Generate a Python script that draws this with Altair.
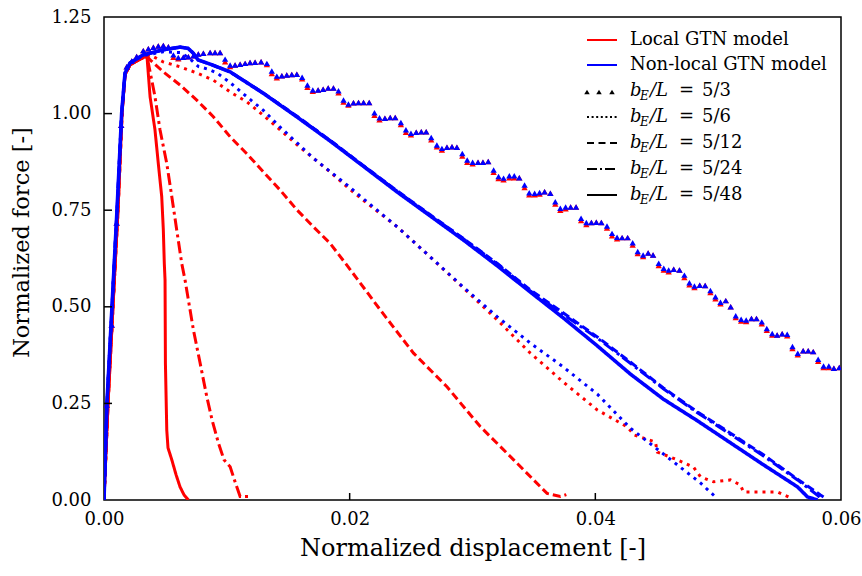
import altair as alt
import pandas as pd

# ---------------- data (normalized displacement, normalized force) ----------------
# Local GTN model
loc_56_x = [0, 0.00033, 0.00073, 0.00114, 0.00147, 0.00171, 0.00212, 0.00293, 0.0035, 0.00375,
            0.00481, 0.00619, 0.00758, 0.00888, 0.01027, 0.01165, 0.01295, 0.01434, 0.01572, 0.01703,
            0.01841, 0.0198, 0.0211, 0.02387, 0.02656, 0.02925, 0.03202, 0.03471, 0.0374, 0.04016,
            0.04261, 0.04318, 0.04489, 0.04505, 0.04668, 0.04799, 0.04856, 0.04962, 0.051, 0.05181,
            0.05206, 0.0532, 0.05483, 0.05573]
loc_56_f = [0, 0.251, 0.500, 0.751, 1.002, 1.100, 1.126, 1.141, 1.149, 1.152,
            1.134, 1.121, 1.105, 1.087, 1.056, 1.030, 0.996, 0.958, 0.919, 0.885,
            0.849, 0.810, 0.776, 0.707, 0.629, 0.549, 0.466, 0.380, 0.305, 0.233,
            0.189, 0.168, 0.150, 0.124, 0.104, 0.085, 0.060, 0.047, 0.052, 0.039,
            0.021, 0.021, 0.021, 0.008]

loc_512_x = [0, 0.00033, 0.00073, 0.00114, 0.00147, 0.00171, 0.00212, 0.00293, 0.0035,
             0.00375, 0.00483, 0.00619, 0.00755, 0.0089, 0.01027, 0.01163, 0.01298, 0.01434, 0.0157,
             0.01705, 0.01841, 0.01977, 0.02249, 0.0252, 0.02792, 0.03063, 0.03335, 0.03607, 0.03715,
             0.03764]
loc_512_f = [0, 0.251, 0.500, 0.751, 1.002, 1.100, 1.126, 1.141, 1.149,
             1.139, 1.108, 1.074, 1.035, 0.992, 0.940, 0.896, 0.849, 0.802, 0.751,
             0.707, 0.664, 0.608, 0.492, 0.380, 0.293, 0.190, 0.104, 0.017, 0.009,
             0.014]

loc_524_x = [0, 0.00033, 0.00073, 0.00114, 0.00147, 0.00171, 0.00212, 0.00293, 0.0035,
             0.00361, 0.00415, 0.00456, 0.00511, 0.00552, 0.00592, 0.00633, 0.0066, 0.00728, 0.00782,
             0.00837, 0.0088, 0.00931, 0.00977, 0.01027, 0.01067, 0.01108, 0.01176]
loc_524_f = [0, 0.251, 0.500, 0.751, 1.002, 1.100, 1.126, 1.141, 1.149,
             1.131, 1.044, 0.958, 0.871, 0.785, 0.699, 0.612, 0.569, 0.440, 0.355,
             0.267, 0.207, 0.148, 0.104, 0.086, 0.047, 0.009, 0.009]

loc_548_x = [0, 0.00033, 0.00073, 0.00114, 0.00147, 0.00171, 0.00212, 0.00293, 0.0035,
             0.00354, 0.00375, 0.00415, 0.00442, 0.0047, 0.00483, 0.00491, 0.00497, 0.005, 0.00511,
             0.00521, 0.00552, 0.00587, 0.00619, 0.00652, 0.00687]
loc_548_f = [0, 0.251, 0.500, 0.751, 1.002, 1.100, 1.126, 1.141, 1.149,
             1.131, 1.044, 0.958, 0.871, 0.785, 0.699, 0.612, 0.569, 0.354, 0.181,
             0.135, 0.104, 0.065, 0.034, 0.013, 0.0]

# Non-local GTN model
nl_56_x = [0, 0.00024, 0.00065, 0.00106, 0.00144, 0.00171, 0.00212, 0.00318, 0.00481, 0.00619,
           0.00687, 0.00768, 0.00847, 0.00921, 0.01027, 0.01165, 0.01295, 0.01434, 0.01572, 0.01703,
           0.01841, 0.0198, 0.0211, 0.02387, 0.02656, 0.02925, 0.03202, 0.03471, 0.0374, 0.04016,
           0.04285, 0.04587, 0.04856, 0.04978]
nl_56_f = [0, 0.251, 0.500, 0.751, 1.002, 1.105, 1.131, 1.150, 1.160, 1.158,
           1.145, 1.122, 1.115, 1.105, 1.080, 1.043, 1.009, 0.965, 0.924, 0.885,
           0.850, 0.815, 0.780, 0.707, 0.629, 0.551, 0.474, 0.406, 0.344, 0.274,
           0.186, 0.111, 0.044, 0.008]

nl_512_x = [0, 0.00024, 0.00065, 0.00106, 0.00144, 0.00171, 0.00212, 0.00318, 0.00481, 0.00619,
            0.00684, 0.00725, 0.00766, 0.00864, 0.01027, 0.01295, 0.01572, 0.01841, 0.0211, 0.02387,
            0.02656, 0.02925, 0.03202, 0.03471, 0.0374, 0.04016, 0.04285, 0.04554, 0.04831, 0.051,
            0.05369, 0.05646, 0.05833, 0.05858]
nl_512_f = [0, 0.251, 0.500, 0.751, 1.002, 1.105, 1.131, 1.152, 1.165, 1.172,
            1.169, 1.157, 1.139, 1.128, 1.108, 1.054, 0.993, 0.931, 0.866, 0.800,
            0.738, 0.677, 0.612, 0.5435, 0.484, 0.422, 0.357, 0.290, 0.228, 0.173,
            0.117, 0.054, 0.013, 0.008]

nl_524_x = [0, 0.00024, 0.00065, 0.00106, 0.00144, 0.00171, 0.00212, 0.00318, 0.00481, 0.00619,
            0.00684, 0.00725, 0.00766, 0.00864, 0.01027, 0.01295, 0.01572, 0.01841, 0.0211, 0.02387,
            0.02656, 0.02925, 0.03202, 0.03471, 0.0374, 0.04016, 0.04285, 0.04554, 0.04831, 0.051,
            0.05369, 0.05646, 0.05806, 0.05825]
nl_524_f = [0, 0.251, 0.500, 0.751, 1.002, 1.105, 1.131, 1.152, 1.165, 1.172,
            1.169, 1.157, 1.139, 1.128, 1.108, 1.053, 0.992, 0.930, 0.865, 0.799,
            0.737, 0.676, 0.611, 0.541, 0.480, 0.419, 0.354, 0.288, 0.226, 0.170,
            0.114, 0.052, 0.013, 0.007]

nl_548_x = [0, 0.00024, 0.00065, 0.00106, 0.00144, 0.00171, 0.00212, 0.00318, 0.00481, 0.00619,
            0.00684, 0.00725, 0.00766, 0.00864, 0.01027, 0.01295, 0.01572, 0.01841, 0.0211, 0.02387,
            0.02656, 0.02925, 0.03202, 0.03471, 0.0374, 0.04016, 0.04285, 0.04554, 0.04831, 0.051,
            0.05369, 0.05646, 0.05727, 0.05809]
nl_548_f = [0, 0.251, 0.500, 0.751, 1.002, 1.105, 1.131, 1.152, 1.165, 1.172,
            1.169, 1.157, 1.139, 1.128, 1.108, 1.053, 0.991, 0.929, 0.864, 0.797,
            0.735, 0.673, 0.606, 0.538, 0.471, 0.399, 0.326, 0.261, 0.205, 0.148,
            0.091, 0.034, 0.008, 0.0]

# b_E/L = 5/3 (markers only, both models)
tri_x = [0, 0.00022, 0.00063, 0.00103, 0.0014, 0.00185, 0.00226, 0.00266, 0.0032, 0.00361,
         0.00402, 0.00442, 0.00483, 0.00524, 0.00565, 0.00605, 0.00646, 0.00687, 0.00728, 0.00768,
         0.00809, 0.00864, 0.00904, 0.00945, 0.00986, 0.01027, 0.01067, 0.01108, 0.01149, 0.01189,
         0.0123, 0.01279, 0.01326, 0.01366, 0.01407, 0.01448, 0.01488, 0.01529, 0.0157, 0.01613,
         0.01656, 0.017, 0.01743, 0.01784, 0.01825, 0.01868, 0.01909, 0.0195, 0.0199, 0.02031,
         0.02072, 0.02113, 0.02159, 0.02202, 0.02243, 0.02287, 0.0233, 0.02371, 0.02417, 0.02458,
         0.02499, 0.02542, 0.02583, 0.02623, 0.02664, 0.0271, 0.02751, 0.02792, 0.02833, 0.02873,
         0.02917, 0.02957, 0.03001, 0.03045, 0.03085, 0.03128, 0.03172, 0.03212, 0.03253, 0.033,
         0.0334, 0.03381, 0.03424, 0.03462, 0.03506, 0.03546, 0.03587, 0.03634, 0.03674, 0.03715,
         0.03758, 0.03799, 0.03843, 0.03884, 0.03927, 0.03968, 0.04008, 0.04049, 0.04095, 0.04136,
         0.04177, 0.04218, 0.04263, 0.04304, 0.04345, 0.04389, 0.0443, 0.0447, 0.04516, 0.04557,
         0.04597, 0.04638, 0.04685, 0.04725, 0.04766, 0.04807, 0.0485, 0.04894, 0.04937, 0.04978,
         0.05019, 0.05062, 0.05102, 0.05143, 0.05187, 0.05228, 0.05271, 0.05312, 0.05355, 0.05396,
         0.0544, 0.0548, 0.05521, 0.05562, 0.05605, 0.05648, 0.05692, 0.05733, 0.05774, 0.05814,
         0.05858, 0.05901, 0.05942, 0.05986]
tri_nl_f = [0, 0.246, 0.453, 0.717, 0.970, 1.121, 1.136, 1.148, 1.163, 1.168,
            1.172, 1.175, 1.176, 1.173, 1.152, 1.145, 1.146, 1.147, 1.150, 1.154,
            1.156, 1.158, 1.158, 1.158, 1.141, 1.126, 1.126, 1.128, 1.130, 1.132,
            1.133, 1.134, 1.130, 1.110, 1.097, 1.098, 1.100, 1.101, 1.102, 1.094,
            1.074, 1.061, 1.061, 1.063, 1.066, 1.066, 1.059, 1.035, 1.025, 1.028,
            1.029, 1.029, 1.029, 1.002, 0.989, 0.988, 0.990, 0.990, 0.977, 0.958,
            0.949, 0.952, 0.953, 0.953, 0.938, 0.919, 0.910, 0.913, 0.914, 0.913,
            0.897, 0.880, 0.874, 0.874, 0.874, 0.876, 0.854, 0.837, 0.833, 0.839,
            0.839, 0.834, 0.815, 0.795, 0.794, 0.796, 0.798, 0.794, 0.772, 0.755,
            0.758, 0.758, 0.758, 0.729, 0.718, 0.718, 0.719, 0.718, 0.709, 0.690,
            0.680, 0.679, 0.679, 0.666, 0.643, 0.634, 0.639, 0.634, 0.613, 0.600,
            0.595, 0.597, 0.595, 0.582, 0.562, 0.554, 0.556, 0.555, 0.542, 0.526,
            0.512, 0.516, 0.500, 0.477, 0.468, 0.466, 0.470, 0.470, 0.461, 0.444,
            0.431, 0.427, 0.430, 0.429, 0.397, 0.380, 0.386, 0.386, 0.384, 0.364,
            0.347, 0.347, 0.341, 0.343]
tri_loc_f = [0, 0.246, 0.453, 0.717, 0.970, 1.121, 1.136, 1.148, 1.163, 1.168,
             1.172, 1.175, 1.176, 1.173, 1.146, 1.142, 1.146, 1.147, 1.150, 1.154,
             1.156, 1.158, 1.158, 1.158, 1.134, 1.122, 1.126, 1.128, 1.130, 1.132,
             1.133, 1.134, 1.127, 1.104, 1.093, 1.098, 1.100, 1.101, 1.102, 1.090,
             1.068, 1.058, 1.061, 1.063, 1.066, 1.066, 1.054, 1.030, 1.022, 1.028,
             1.029, 1.029, 1.029, 0.996, 0.984, 0.988, 0.990, 0.990, 0.972, 0.952,
             0.945, 0.952, 0.953, 0.953, 0.932, 0.914, 0.906, 0.913, 0.914, 0.913,
             0.890, 0.874, 0.870, 0.874, 0.874, 0.876, 0.848, 0.832, 0.829, 0.834,
             0.834, 0.834, 0.809, 0.790, 0.790, 0.792, 0.798, 0.794, 0.766, 0.750,
             0.754, 0.758, 0.758, 0.723, 0.713, 0.718, 0.719, 0.718, 0.704, 0.684,
             0.676, 0.679, 0.679, 0.660, 0.638, 0.630, 0.639, 0.634, 0.607, 0.595,
             0.591, 0.597, 0.595, 0.576, 0.557, 0.550, 0.556, 0.555, 0.537, 0.521,
             0.508, 0.516, 0.500, 0.472, 0.463, 0.462, 0.470, 0.470, 0.456, 0.439,
             0.427, 0.427, 0.430, 0.425, 0.392, 0.376, 0.386, 0.386, 0.384, 0.359,
             0.343, 0.343, 0.341, 0.343]

RATIOS = ["5/3", "5/6", "5/12", "5/24", "5/48"]
MODELS = ["Local", "Non-local"]
X_TICKS = [0.0, 0.02, 0.04, 0.06]
Y_TICKS = [0.0, 0.25, 0.50, 0.75, 1.00, 1.25]
X_INNER_TICKS = [0.02, 0.04]
Y_INNER_TICKS = [0.25, 0.50, 0.75, 1.00]

# ---------------- tables ----------------
series = [
    ("Local", "5/6", loc_56_x, loc_56_f),
    ("Local", "5/12", loc_512_x, loc_512_f),
    ("Local", "5/24", loc_524_x, loc_524_f),
    ("Local", "5/48", loc_548_x, loc_548_f),
    ("Non-local", "5/6", nl_56_x, nl_56_f),
    ("Non-local", "5/12", nl_512_x, nl_512_f),
    ("Non-local", "5/24", nl_524_x, nl_524_f),
    ("Non-local", "5/48", nl_548_x, nl_548_f),
]
rows = []
for model, ratio, xs, fs in series:
    for i in range(min(len(xs), len(fs))):
        rows.append({"model": model, "ratio": ratio, "key": model + ratio, "i": i,
                     "x": xs[i], "F": fs[i]})
lines = pd.DataFrame(rows)

trows = []
for model, fs in [("Local", tri_loc_f), ("Non-local", tri_nl_f)]:
    for i in range(min(len(tri_x), len(fs))):
        trows.append({"model": model, "ratio": "5/3", "x": tri_x[i], "F": fs[i]})
tris = pd.DataFrame(trows)

xt = pd.DataFrame({"x": X_INNER_TICKS})
yt = pd.DataFrame({"F": Y_INNER_TICKS})
one = pd.DataFrame({"a": [0]})

# ---------------- styling ----------------
W, H = 737, 483
FONT = "DejaVu Serif"
xscale = alt.Scale(domain=[0, 0.06], nice=False, zero=False)
yscale = alt.Scale(domain=[0, 1.25], nice=False, zero=False)
color_scale = alt.Scale(domain=MODELS, range=["#ff0000", "#0000ff"])
dash_scale = alt.Scale(domain=["5/6", "5/12", "5/24", "5/48"],
                       range=[[3, 5], [8, 4], [12, 4, 3, 4], [1, 0]])

x_axis = alt.Axis(values=X_TICKS, format=".2f", title="Normalized displacement [-]",
                  grid=False, ticks=False, domain=False, labelFlush=False, labelOverlap=False,
                  labelPadding=10, labelFontSize=18, titleFontSize=24, titlePadding=8,
                  labelColor="black", titleColor="black", titleFontWeight="normal",
                  labelFont=FONT, titleFont=FONT)
y_axis = alt.Axis(values=Y_TICKS, format=".2f", title="Normalized force [-]",
                  grid=False, ticks=False, domain=False, labelFlush=False, labelOverlap=False,
                  labelPadding=13, labelFontSize=18, titleFontSize=22.5, titlePadding=17,
                  titleY=225,
                  labelColor="black", titleColor="black", titleFontWeight="normal",
                  labelFont=FONT, titleFont=FONT)

X = alt.X("x:Q", scale=xscale, axis=x_axis)
Y = alt.Y("F:Q", scale=yscale, axis=y_axis)


def curve_layer(model, ratios, width):
    return alt.Chart(lines).transform_filter(
        alt.FieldOneOfPredicate(field="model", oneOf=[model])
    ).transform_filter(
        alt.FieldOneOfPredicate(field="ratio", oneOf=ratios)
    ).mark_line(strokeWidth=width, clip=True, strokeCap="butt").encode(
        x=X, y=Y,
        color=alt.Color("model:N", scale=color_scale, legend=None),
        strokeDash=alt.StrokeDash("ratio:N", scale=dash_scale, legend=None),
        detail="key:N",
        order="i:Q",
    )


def tri_layer(model):
    return alt.Chart(tris).transform_filter(
        alt.FieldOneOfPredicate(field="model", oneOf=[model])
    ).mark_point(shape="triangle-up", filled=True, size=40, opacity=1, clip=True).encode(
        x=X, y=Y,
        color=alt.Color("model:N", scale=color_scale, legend=None),
    )


layers = [
    curve_layer("Local", ["5/6", "5/12", "5/24", "5/48"], 3),
    tri_layer("Local"),
    curve_layer("Non-local", ["5/6", "5/12", "5/24"], 3),
    curve_layer("Non-local", ["5/48"], 3.6),
    tri_layer("Non-local"),
    alt.Chart(xt).mark_rule(color="black", strokeWidth=1.5).encode(
        x=X, y=alt.value(H), y2=alt.value(H - 7)),
    alt.Chart(yt).mark_rule(color="black", strokeWidth=1.5).encode(
        y=Y, x=alt.value(0), x2=alt.value(8)),
]

# ---------------- legend ----------------
ROWS = [23, 48, 74, 100, 126, 152, 178]
HX1, HX2, TX = 483, 513, 526


def handle(y, color, dash=None, width=2):
    kw = {"color": color, "strokeWidth": width}
    if dash is not None:
        kw["strokeDash"] = dash
    return alt.Chart(one).mark_rule(**kw).encode(
        x=alt.value(HX1), x2=alt.value(HX2), y=alt.value(y))


def txt(s, x, y, size=18, style="normal"):
    return alt.Chart(one).mark_text(text=s, align="left", baseline="middle", fontSize=size,
                                    fontStyle=style, font=FONT, color="black").encode(
        x=alt.value(x), y=alt.value(y))


layers += [
    handle(ROWS[0], "#ff0000"), txt("Local GTN model", TX, ROWS[0]),
    handle(ROWS[1], "#0000ff"), txt("Non-local GTN model", TX, ROWS[1]),
]
for tx_ in [483, 495, 508]:
    layers.append(alt.Chart(one).mark_point(shape="triangle-up", filled=True, size=30,
                                            opacity=1, color="black").encode(
        x=alt.value(tx_), y=alt.value(ROWS[2] + 1)))
layers += [
    handle(ROWS[3], "black", [2, 2.6]),
    handle(ROWS[4], "black", [7, 4.5]),
    handle(ROWS[5], "black", [10, 3, 2, 3]),
    handle(ROWS[6], "black"),
]
for k, ratio in enumerate(RATIOS):
    yy = ROWS[2 + k]
    layers += [
        txt("b", TX, yy, 18, "italic"),
        txt("E", TX + 10, yy + 5, 12, "italic"),
        txt("/L", TX + 20, yy, 18, "italic"),
        txt("=", TX + 49, yy, 18),
        txt(ratio, TX + 72, yy, 18),
    ]

chart = alt.layer(*layers).properties(
    width=W, height=H,
    padding={"left": 104, "top": 17, "right": 21, "bottom": 76},
    autosize=alt.AutoSizeParams(type="none"),
).configure_view(stroke="black", strokeWidth=1.5)

chart.save("out.html", embed_options={"renderer": "svg", "actions": False})
